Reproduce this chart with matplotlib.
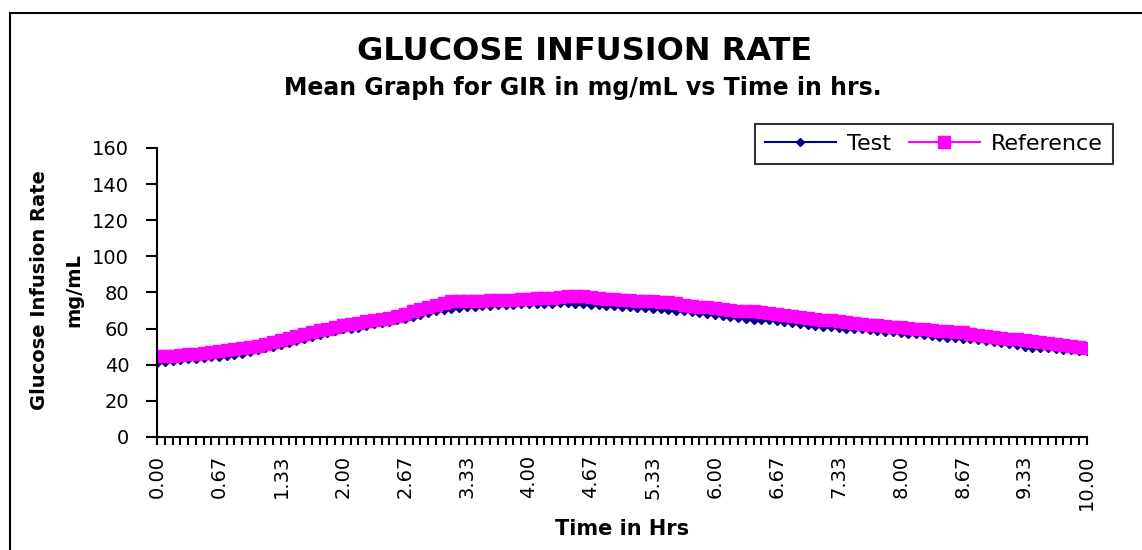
import matplotlib
matplotlib.use("Agg")
import matplotlib.pyplot as plt
from matplotlib.lines import Line2D

# readings every 5 min (1/12 hr), 0 to 10 hrs
test = [41, 41.5, 42, 42.5, 43, 43, 43.5, 44, 44.5, 45, 45.5, 46,
        47, 48, 49, 50, 51, 52, 53, 54, 55.5, 56.5, 57.5, 58.5,
        59.5, 60, 60.5, 61.5, 62.5, 63, 63.5, 64.5, 65.5, 66.5, 67.5, 68.5,
        69.5, 70.5, 71, 71.5, 72, 72, 72.5, 72.5, 73, 73, 73, 73.5,
        73.5, 73.5, 73.5, 73.5, 74, 74, 73.5, 73.5, 73, 73, 72.5, 72.5,
        72, 72, 71.5, 71.5, 71, 71, 70.5, 70, 69.5, 69, 68.5, 68,
        67.5, 67, 66.5, 66, 65.5, 65, 65, 64.5, 64, 63.5, 63, 62.5,
        62, 61.5, 61, 61, 60.5, 60, 60, 59.5, 59, 58.5, 58, 58,
        57.5, 57, 57, 56.5, 56, 55.5, 55, 55, 54.5, 54, 53.5, 53,
        52.5, 52, 51.5, 51, 50, 49.5, 49, 49, 48.5, 48, 48, 47.5,
        47.5]

reference = [45, 45, 45, 45.5, 46, 46, 46.5, 47, 47.5, 48, 48.5, 49.5,
             50, 50.5, 51.5, 52.5, 53.5, 55, 56, 57, 58, 59, 60, 61,
             62, 62.5, 63, 64, 65, 65.5, 66, 67, 68, 69.5, 71, 72,
             73, 74, 75, 75, 75.5, 75.5, 75.5, 76, 76, 76, 76, 76.5,
             76.5, 77, 77, 77, 77.5, 78, 78, 78, 77.5, 77, 76.5, 76.5,
             76, 76, 75.5, 75.5, 75, 74.5, 74.5, 74, 73, 72.5, 72, 72,
             71.5, 71, 70.5, 70, 70, 69.5, 69, 68.5, 68, 67.5, 67, 66.5,
             66, 65.5, 65, 64.5, 64, 63.5, 63, 62.5, 62, 62, 61.5, 61,
             61, 60.5, 60, 59.5, 59, 58.5, 58.5, 58, 58, 57, 56.5, 56,
             55.5, 55, 54.5, 54, 53.5, 53, 52.5, 52, 51.5, 51, 50.5, 50,
             49.5]

tick_labels = ['0.00', '0.67', '1.33', '2.00', '2.67', '3.33', '4.00', '4.67',
               '5.33', '6.00', '6.67', '7.33', '8.00', '8.67', '9.33', '10.00']

x = list(range(len(test)))

fig = plt.figure(figsize=(11.42, 5.5), dpi=100)
ax = fig.add_axes([0.1375, 0.2055, 0.814, 0.5255])

ax.plot(x, test, color='#000080', marker='D', markersize=4, lw=1.5, label='Test')
ax.plot(x, reference, color='#FF00FF', marker='s', markersize=8.5, lw=1.5, label='Reference')

ax.set_xlim(0, len(test) - 1)
ax.set_ylim(0, 160)
ax.set_yticks(range(0, 161, 20))
ax.set_xticks(range(0, len(test), 8))
ax.set_xticklabels(tick_labels, rotation=90)
ax.set_xticks(x, minor=True)
ax.tick_params(axis='both', which='both', direction='out', length=6, width=1.5, labelsize=14)
ax.tick_params(axis='y', length=8, pad=12)
ax.tick_params(axis='x', pad=7)

for s in ['top', 'right']:
    ax.spines[s].set_visible(False)
for s in ['left', 'bottom']:
    ax.spines[s].set_linewidth(1.5)

ax.set_xlabel('Time in Hrs', fontsize=15, fontweight='bold', labelpad=6)
fig.text(57 / 1142, 1 - 290 / 550, 'Glucose Infusion Rate\nmg/mL', rotation=90,
         ha='center', va='center', multialignment='center', fontsize=14,
         fontweight='bold', linespacing=2.0)

fig.text(585 / 1142, 1 - 52 / 550, 'GLUCOSE INFUSION RATE', ha='center', va='center',
         fontsize=23, fontweight='bold')
fig.text(583 / 1142, 1 - 88 / 550, 'Mean Graph for GIR in mg/mL vs Time in hrs.',
         ha='center', va='center', fontsize=17, fontweight='bold')

leg = ax.legend(loc='upper right', bbox_to_anchor=(1113 / 1142, 1 - 124 / 550),
                bbox_transform=fig.transFigure, ncol=2, fontsize=16, frameon=True,
                fancybox=False, handlelength=3.2, columnspacing=0.8, handletextpad=0.5,
                borderpad=0.45, borderaxespad=0)
leg.get_frame().set_edgecolor('black')
leg.get_frame().set_linewidth(1.5)

# outer chart border
fig.add_artist(Line2D([10 / 1142, 10 / 1142], [0, 1 - 13 / 550], transform=fig.transFigure,
                      color='black', lw=1.5))
fig.add_artist(Line2D([10 / 1142, 1], [1 - 13 / 550, 1 - 13 / 550], transform=fig.transFigure,
                      color='black', lw=1.5))

fig.savefig('out.png', dpi=100)
